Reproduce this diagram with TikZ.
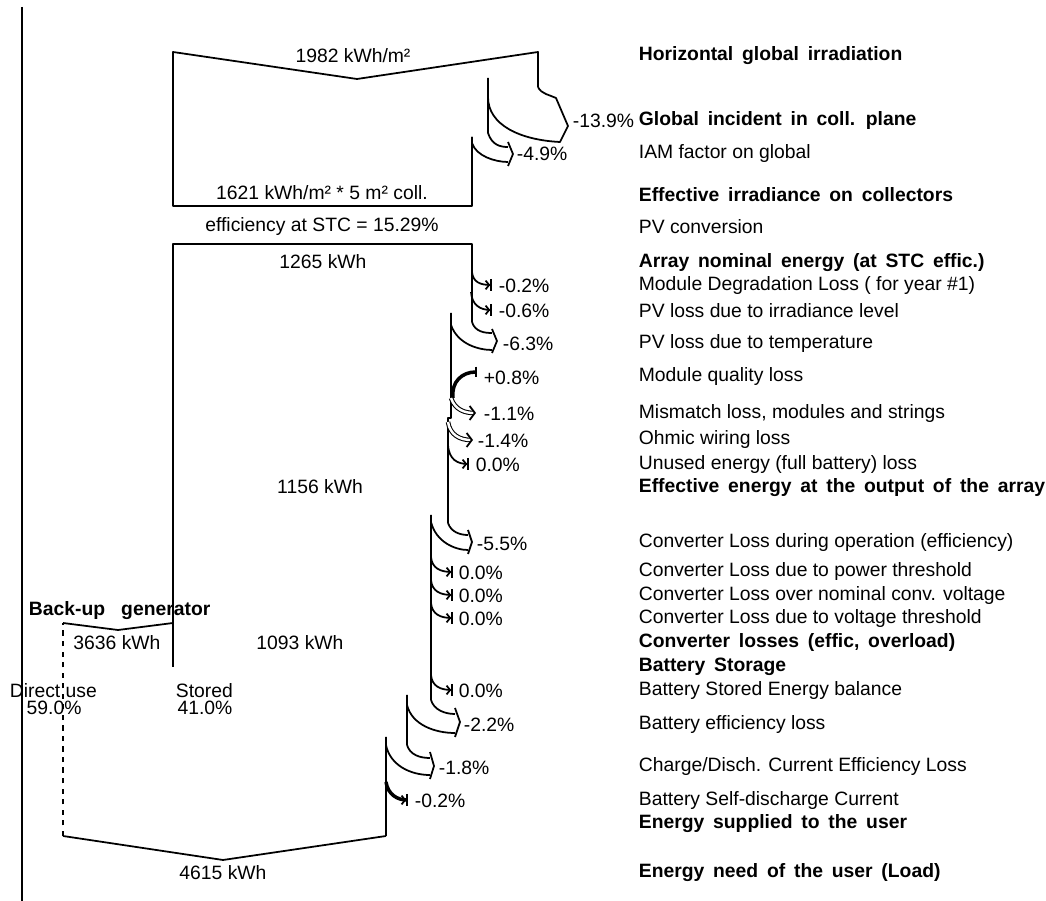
\documentclass[tikz,border=0pt]{standalone}
\usepackage{fontspec}
\setmainfont{Liberation Sans}
\usetikzlibrary{arrows.meta}

\begin{document}
\begin{tikzpicture}[x=0.02cm,y=-0.02cm,line width=1pt,line join=round,
  font=\fontsize{11}{13}\selectfont,
  lbl/.style={anchor=west,inner sep=0pt},
  stage/.style={lbl,font={\fontsize{11}{13}\selectfont\bfseries\spaceskip=5pt\relax}},
  val/.style={inner sep=0pt},
  split/.style={anchor=north west,inner sep=0pt,align=left,font=\fontsize{11}{9.6}\selectfont},
  smallloss/.style={-{Straight Barb[length=2pt,width=5pt]Bar[width=7pt]}},
  gainline/.style={line width=2pt,-{Bar[width=6pt,line width=1pt]}},
  hollowloss/.style={double,double distance=1.4pt,line width=0.6pt,-{Straight Barb[length=3pt,width=8pt,line width=1pt]}}]
  \useasboundingbox (0,0) rectangle (1046,901);

  % frame line on the left
  \draw (22,7) -- (22,901);

  % irradiation part
  \draw (538,87) -- (538,52) -- (357,79) -- (173,52) -- (173,206) -- (472,206) -- (472,137);
  \draw (538,87) .. controls (541,94) and (550,95) .. (556,98) -- (568,126) -- (560,142)
        .. controls (520,140) and (488,125) .. (488,97);
  \draw (488,78) -- (488,133) .. controls (492,145) and (500,147) .. (508,147);
  \draw (508,142) -- (513,154) -- (508,166);
  \draw (472,137) -- (472,143) .. controls (476,156) and (495,162) .. (508,162);

  % array part
  \draw (173,667) -- (173,244) -- (472,244) -- (472,322);
  \draw[smallloss] (472,272) .. controls (473,282) and (480,285) .. (492,285);
  \draw[smallloss] (471,292) .. controls (472,305) and (480,310) .. (492,310);
  \draw (472,322) .. controls (475,332) and (485,333) .. (492,333);
  \draw (492,329) -- (497,341) -- (492,353);
  \draw (451,313) -- (451,325) .. controls (458,345) and (480,350) .. (492,350);
  \draw (451,313) -- (451,418) -- (448,418) -- (448,523);
  \draw[gainline] (453,398) .. controls (451,382) and (462,372) .. (477,372);
  \draw[hollowloss] (451,398) .. controls (455,410) and (465,413) .. (476,413);
  \draw[hollowloss] (448,422) .. controls (450,435) and (460,440) .. (473,440);
  \draw[smallloss] (448,445) .. controls (449,460) and (458,464) .. (469,464);

  % converter part
  \draw (448,523) .. controls (451,532) and (460,535) .. (468,535);
  \draw (468,530) -- (472,542) -- (468,554);
  \draw (431,515) -- (431,522) .. controls (436,542) and (455,550) .. (468,550);
  \draw (431,515) -- (431,700);
  \foreach \yy in {572,595,618,690}
    \draw[smallloss] (431,\yy-15) .. controls (432,\yy-4) and (440,\yy) .. (453,\yy);

  % battery part
  \draw (431,700) .. controls (434,710) and (445,714) .. (455,714);
  \draw (455,708) -- (460,722) -- (455,737);
  \draw (407,695) -- (407,705) .. controls (412,725) and (435,733) .. (455,733);
  \draw (407,695) -- (407,745);
  \draw (407,745) .. controls (410,755) and (420,758) .. (430,758);
  \draw (430,752) -- (434,766) -- (430,779);
  \draw (386,737) -- (386,745) .. controls (390,765) and (410,775) .. (430,775);
  \draw (386,737) -- (386,836);
  \draw[gainline,-{Straight Barb[length=2pt,width=5pt,line width=1pt]Bar[width=7pt,line width=1pt]}]
        (386,782) .. controls (388,795) and (398,800) .. (408,800);

  % user and back-up
  \draw (386,836) -- (223,860) -- (63,836);
  \draw[dashed] (63,836) -- (63,623);
  \draw (63,623) -- (118,630) -- (173,623);

  % values inside the flow
  \node[val] (vhor) at (353,56) {1982 kWh/m²};
  \node[val] (vcoll) at (322,193) {1621 kWh/m² * 5 m² coll.};
  \node[val] (veff) at (322,227) {efficiency at STC = 15.29\%};
  \node[val] (vnom) at (323,262) {1265 kWh};
  \node[val] (varr) at (320,487) {1156 kWh};
  \node[val] (vconv) at (300,643) {1093 kWh};
  \node[val] (vgen) at (117,643) {3636 kWh};
  \node[val] (vload) at (223,873) {4615 kWh};
  \node[lbl,font=\fontsize{11}{13}\selectfont\bfseries] (bgen) at (28,611) {Back-up\ \ \ generator};
  \node[split] (direct) at (9,683) {Direct use\\\hspace*{9.6pt}59.0\%};
  \node[split] (stored) at (175,683) {Stored\\\hspace*{1pt}41.0\%};

  % loss percentages
  \node[lbl] (p1) at (572,121) {-13.9\%};
  \node[lbl] (p2) at (516,154) {-4.9\%};
  \node[lbl] (p3) at (498,286) {-0.2\%};
  \node[lbl] (p4) at (498,311) {-0.6\%};
  \node[lbl] (p5) at (502,344) {-6.3\%};
  \node[lbl] (p6) at (483,378) {+0.8\%};
  \node[lbl] (p7) at (483,414) {-1.1\%};
  \node[lbl] (p8) at (477,441) {-1.4\%};
  \node[lbl] (p9) at (475,465) {0.0\%};
  \node[lbl] (p10) at (476,544) {-5.5\%};
  \node[lbl] (p11) at (458,573) {0.0\%};
  \node[lbl] (p12) at (458,596) {0.0\%};
  \node[lbl] (p13) at (458,619) {0.0\%};
  \node[lbl] (p14) at (458,691) {0.0\%};
  \node[lbl] (p15) at (463,725) {-2.2\%};
  \node[lbl] (p16) at (438,768) {-1.8\%};
  \node[lbl] (p17) at (414,801) {-0.2\%};

  % step names on the right
  \node[stage] (s1) at (638,56) {Horizontal global irradiation};
  \node[stage] (s2) at (638,121) {Global incident in coll. plane};
  \node[lbl] (s3) at (638,154) {IAM factor on global};
  \node[stage] (s4) at (638,195) {Effective irradiance on collectors};
  \node[lbl] (s5) at (638,227) {PV conversion};
  \node[stage] (s6) at (638,263) {Array nominal energy (at STC effic.)};
  \node[lbl] (s7) at (638,286) {Module Degradation Loss ( for year \#1)};
  \node[lbl] (s8) at (638,311) {PV loss due to irradiance level};
  \node[lbl] (s9) at (638,344) {PV loss due to temperature};
  \node[lbl] (s10) at (638,377) {Module quality loss};
  \node[lbl] (s11) at (638,414) {Mismatch loss, modules and strings};
  \node[lbl] (s12) at (638,440) {Ohmic wiring loss};
  \node[lbl] (s13) at (638,465) {Unused energy (full battery) loss};
  \node[stage] (s14) at (638,488) {Effective energy at the output of the array};
  \node[lbl] (s15) at (638,543) {Converter Loss during operation (efficiency)};
  \node[lbl] (s16) at (638,572) {Converter Loss due to power threshold};
  \node[lbl] (s17) at (638,596) {Converter Loss over nominal conv. voltage};
  \node[lbl] (s18) at (638,619) {Converter Loss due to voltage threshold};
  \node[stage] (s19) at (638,643) {Converter losses (effic, overload)};
  \node[stage] (s20) at (638,667) {Battery Storage};
  \node[lbl] (s21) at (638,691) {Battery Stored Energy balance};
  \node[lbl] (s22) at (638,725) {Battery efficiency loss};
  \node[lbl] (s23) at (638,767) {Charge/Disch. Current Efficiency Loss};
  \node[lbl] (s24) at (638,801) {Battery Self-discharge Current};
  \node[stage] (s25) at (638,824) {Energy supplied to the user};
  \node[stage] (s26) at (638,873) {Energy need of the user (Load)};
\end{tikzpicture}
\end{document}
